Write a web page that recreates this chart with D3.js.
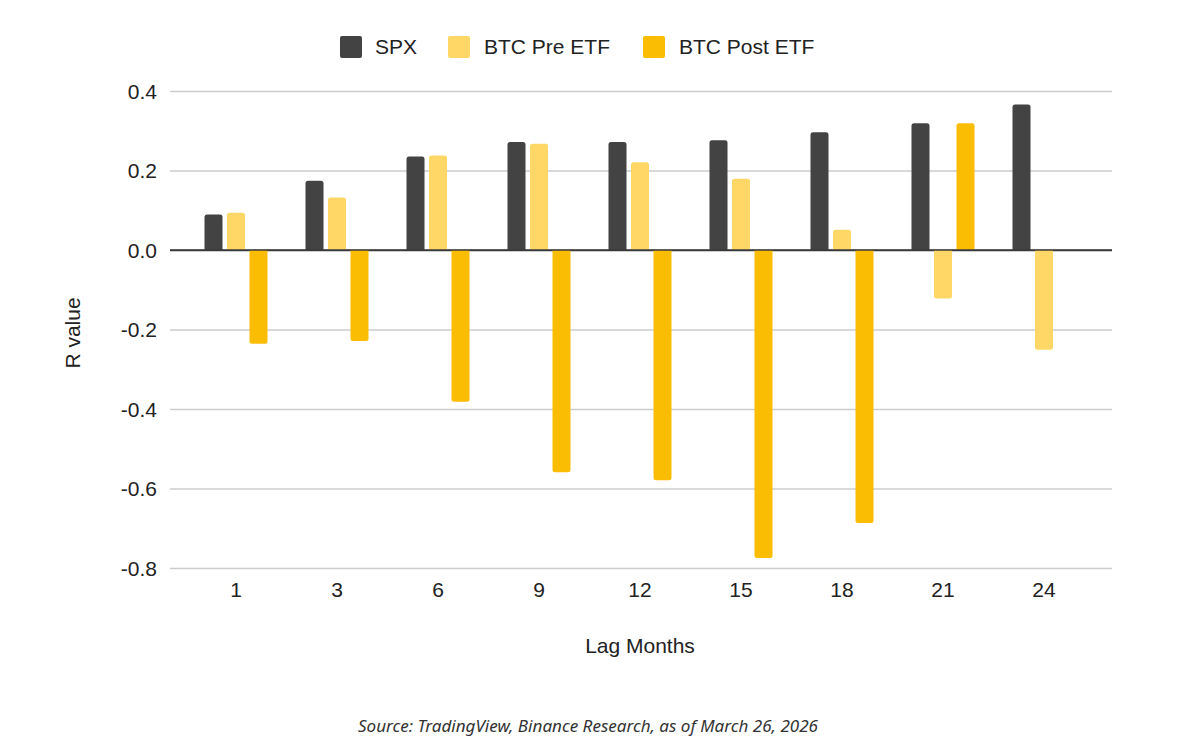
<!DOCTYPE html>
<html>
<head>
<meta charset="utf-8">
<script src="https://cdn.jsdelivr.net/npm/d3@7/dist/d3.min.js"></script>
<style>
  html, body { margin: 0; padding: 0; background: #ffffff; }
  svg { display: block; }
</style>
</head>
<body>
<svg id="chart" width="1199" height="743"></svg>
<script>
// ---- data ----
const categories = ["1", "3", "6", "9", "12", "15", "18", "21", "24"];
const seriesNames = ["SPX", "BTC Pre ETF", "BTC Post ETF"];
const spx =        [0.089, 0.174, 0.235, 0.272, 0.272, 0.276, 0.296, 0.319, 0.366];
const btcPreEtf =  [0.094, 0.132, 0.238, 0.267, 0.221, 0.179, 0.051, -0.122, -0.251];
const btcPostEtf = [-0.236, -0.229, -0.382, -0.559, -0.579, -0.775, -0.687, 0.319, null];
const yTicks = [0.4, 0.2, 0.0, -0.2, -0.4, -0.6, -0.8];
const colors = ["#434343", "#FED766", "#FBBC04"];

const seriesValues = [spx, btcPreEtf, btcPostEtf];

const svg = d3.select("#chart");
const font = "'Liberation Sans', Arial, sans-serif";

const y = d3.scaleLinear().domain([-0.8, 0.4]).range([568, 91]);
const x0 = d3.scaleBand().domain(categories).range([185.5, 1094.5]).padding(0);
const x1 = d3.scaleBand().domain(seriesNames).range([19, 82]).paddingInner(0.2);

const plotLeft = 170, plotRight = 1112;

// gridlines + y tick labels (ASCII hyphen-minus)
const fmt = d => d3.format(".1f")(d).replace("\u2212", "-");
const yAxis = d3.axisLeft(y).tickValues(yTicks).tickFormat(fmt)
  .tickSize(-(plotRight - plotLeft)).tickPadding(13);
const gy = svg.append("g").attr("transform", `translate(${plotLeft},0)`).call(yAxis);
gy.select(".domain").remove();
gy.selectAll(".tick line").attr("stroke", d => d === 0 ? "#3a3a3a" : "#cccccc")
  .attr("stroke-width", d => d === 0 ? 1.6 : 1.4);
gy.selectAll(".tick text").attr("font-family", font).attr("font-size", 21)
  .attr("fill", "#222").attr("dy", "0.35em");

// bars
function barPath(xl, w, v) {
  const y0 = y(0), yv = y(v);
  const r = Math.min(2.5, Math.abs(yv - y0));
  if (v >= 0) {
    return `M${xl},${y0} V${yv + r} Q${xl},${yv} ${xl + r},${yv} H${xl + w - r} Q${xl + w},${yv} ${xl + w},${yv + r} V${y0} Z`;
  } else {
    return `M${xl},${y0} V${yv - r} Q${xl},${yv} ${xl + r},${yv} H${xl + w - r} Q${xl + w},${yv} ${xl + w},${yv - r} V${y0} Z`;
  }
}

const barData = [];
categories.forEach((c, i) => {
  seriesNames.forEach((s, j) => {
    const v = seriesValues[j][i];
    if (v !== null && v !== undefined) barData.push({ c, s, j, v });
  });
});

const barsG = svg.append("g");
barsG.selectAll("path").data(barData).join("path")
  .attr("d", d => barPath(x0(d.c) + x1(d.s), x1.bandwidth(), d.v))
  .attr("fill", d => colors[d.j]);

// zero line above bars
svg.append("line").attr("x1", plotLeft).attr("x2", plotRight)
  .attr("y1", y(0)).attr("y2", y(0)).attr("stroke", "#3a3a3a").attr("stroke-width", 1.6);

// x axis labels
const xAxis = d3.axisBottom(x0).tickSize(0).tickPadding(0);
const gx = svg.append("g").attr("transform", `translate(0,${y(-0.8)})`).call(xAxis);
gx.select(".domain").remove();
gx.selectAll(".tick text").attr("font-family", font).attr("font-size", 21)
  .attr("fill", "#222").attr("dy", "0").attr("y", 29);

// axis titles
svg.append("text").attr("x", 640).attr("y", 653).attr("text-anchor", "middle")
  .attr("font-family", font).attr("font-size", 21).attr("fill", "#222").text("Lag Months");
svg.append("text").attr("transform", "translate(80,333) rotate(-90)").attr("text-anchor", "middle")
  .attr("font-family", font).attr("font-size", 21).attr("fill", "#222").text("R value");

// legend
const legendItems = [
  { name: "SPX", sx: 340, tx: 375 },
  { name: "BTC Pre ETF", sx: 448, tx: 484 },
  { name: "BTC Post ETF", sx: 643, tx: 679 }
];
const lg = svg.append("g");
legendItems.forEach((it, i) => {
  lg.append("rect").attr("x", it.sx).attr("y", 36).attr("width", 22).attr("height", 22)
    .attr("rx", 2).attr("fill", colors[i]);
  lg.append("text").attr("x", it.tx).attr("y", 54).attr("font-family", font)
    .attr("font-size", 21).attr("fill", "#222").text(seriesNames[i]);
});

// source
svg.append("text").attr("x", 588).attr("y", 732).attr("text-anchor", "middle")
  .attr("font-family", "'Noto Sans', 'Open Sans', sans-serif").attr("font-style", "italic")
  .attr("font-size", 16).attr("fill", "#333")
  .attr("textLength", 460).attr("lengthAdjust", "spacingAndGlyphs")
  .text("Source: TradingView, Binance Research, as of March 26, 2026");
</script>
</body>
</html>
